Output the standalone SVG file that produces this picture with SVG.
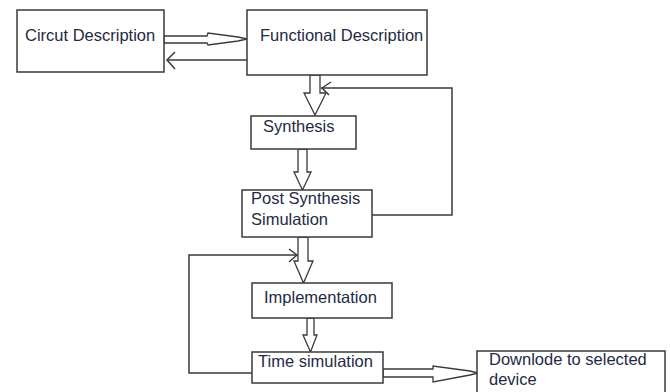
<svg xmlns="http://www.w3.org/2000/svg" width="670" height="392" viewBox="0 0 670 392">
  <style>
    .box { fill: #ffffff; stroke: #3a3a3a; stroke-width: 1.5; }
    .lbl { font-family: "Liberation Sans", Arial, sans-serif; font-size: 16.5px; fill: #1f2a44; }
    .hollow { fill: #ffffff; stroke: #3a3a3a; stroke-width: 1.3; stroke-linejoin: miter; }
    .wire { fill: none; stroke: #3a3a3a; stroke-width: 1.5; }
  </style>
  <rect width="670" height="392" fill="#ffffff"/>

  <g id="connectors">
    <!-- Circuit description to functional description -->
    <polygon class="hollow" points="164,36 207,36 208,33 238,37 247,39 238,41 208,45 207,43 164,43"/>
    <!-- Functional description back to circuit description -->
    <line class="wire" x1="250" y1="60" x2="167" y2="60"/>
    <polyline class="wire" points="175,52 167,60 175,69"/>
    <!-- Functional description to synthesis -->
    <polygon class="hollow" points="310,75 320,75 320,93 326,93 315,115 304,93 310,93"/>
    <!-- Post synthesis simulation feedback to functional description -->
    <polyline class="wire" points="372,215 452,215 452,88 321,88"/>
    <polyline class="wire" points="331,82 322,88 329,95"/>
    <!-- Synthesis to post synthesis simulation -->
    <polygon class="hollow" points="298,149 307,149 307,172 311,172 302.5,190 294,172 298,172"/>
    <!-- Post synthesis simulation to implementation -->
    <polygon class="hollow" points="298,237 308,237 308,261 313,261 303.5,283 294,261 298,261"/>
    <!-- Time simulation feedback to implementation -->
    <polyline class="wire" points="252,373 189,373 189,255 297,255"/>
    <polyline class="wire" points="289,249 297,255 289,262"/>
    <!-- Implementation to time simulation -->
    <polygon class="hollow" points="307,318 314,318 314,335 317,335 310.5,352 303,335 307,335"/>
    <!-- Time simulation to download -->
    <polygon class="hollow" points="383,369 433,369 433,366 470,371 478,373 470,375 433,382 433,377 383,377"/>
  </g>

  <g id="circuit-description">
    <rect class="box" x="17" y="10" width="147" height="62"/>
    <text class="lbl" x="25" y="41">Circut Description</text>
  </g>

  <g id="functional-description">
    <rect class="box" x="247" y="10" width="180" height="65"/>
    <text class="lbl" x="260" y="41">Functional Description</text>
  </g>

  <g id="synthesis">
    <rect class="box" x="251" y="116" width="105" height="33"/>
    <text class="lbl" x="263" y="132">Synthesis</text>
  </g>

  <g id="post-synthesis-simulation">
    <rect class="box" x="242" y="190" width="130" height="47"/>
    <text class="lbl" x="251" y="204">Post Synthesis</text>
    <text class="lbl" x="251" y="225">Simulation</text>
  </g>

  <g id="implementation">
    <rect class="box" x="252" y="283" width="140" height="35"/>
    <text class="lbl" x="264" y="303">Implementation</text>
  </g>

  <g id="time-simulation">
    <rect class="box" x="252" y="352" width="131" height="31"/>
    <text class="lbl" x="258" y="367">Time simulation</text>
  </g>

  <g id="download">
    <rect class="box" x="477" y="351" width="188" height="50"/>
    <text class="lbl" x="489" y="365">Downlode to selected</text>
    <text class="lbl" x="489" y="385">device</text>
  </g>
</svg>
